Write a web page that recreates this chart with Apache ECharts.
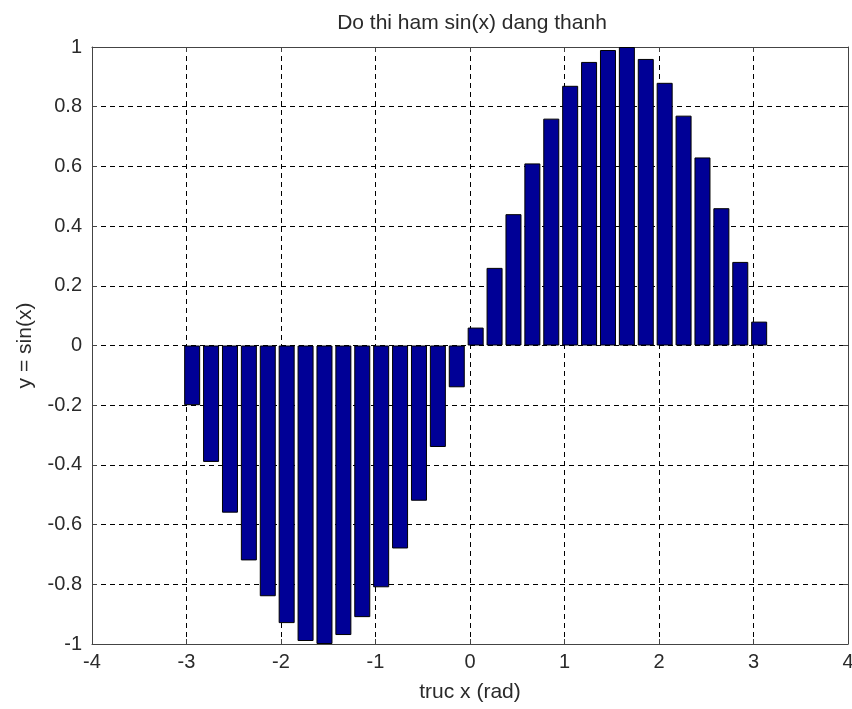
<!DOCTYPE html>
<html>
<head>
    <meta charset="UTF-8">
    <title>sin(x) bar</title>
    <script src="https://cdn.jsdelivr.net/npm/echarts@6/dist/echarts.min.js"></script>
    <style>
        html, body { margin: 0; padding: 0; background: #fff; }
    </style>
</head>
<body>
<div id="container" style="width: 852px; height: 709px;"></div>
<script>
    // x positions of the bars (step 0.2) and the bar heights
    var xs = [-2.94, -2.74, -2.54, -2.34, -2.14, -1.94, -1.74, -1.54, -1.34, -1.14,
              -0.94, -0.74, -0.54, -0.34, -0.14, 0.06, 0.26, 0.46, 0.66, 0.86,
              1.06, 1.26, 1.46, 1.66, 1.86, 2.06, 2.26, 2.46, 2.66, 2.86, 3.06];
    var ys = [-0.20, -0.39, -0.56, -0.72, -0.84, -0.93, -0.99, -1.00, -0.97, -0.91,
              -0.81, -0.68, -0.52, -0.34, -0.14, 0.06, 0.26, 0.44, 0.61, 0.76,
              0.87, 0.95, 0.99, 1.00, 0.96, 0.88, 0.77, 0.63, 0.46, 0.28, 0.08];

    var pts = [];
    for (var i = 0; i < xs.length; i++) {
        pts.push([xs[i], ys[i]]);
    }

    var fontName = 'Liberation Sans, Arial, sans-serif';
    var txtColor = '#2a2a2a';
    var gridLine = { show: true, lineStyle: { color: '#000', type: [5, 4], width: 1 } };
    var axisLn = { show: true, onZero: false, lineStyle: { color: '#444', width: 1 } };
    var tickIn = { show: true, inside: true, length: 5, lineStyle: { color: '#444' } };

    var mychart = echarts.init(document.getElementById('container'));
    var option = {
        animation: false,
        backgroundColor: '#fff',
        title: {
            text: 'Do thi ham sin(x) dang thanh',
            left: 467, top: 8, textAlign: 'center',
            textStyle: { fontFamily: fontName, fontSize: 21, fontWeight: 'normal', color: txtColor }
        },
        grid: { left: 92, right: 4, top: 47, bottom: 65, outerBoundsMode: 'none', containLabel: false },
        xAxis: [{
            type: 'value', min: -4, max: 4, interval: 1,
            name: 'truc x (rad)', nameLocation: 'middle', nameGap: 38,
            nameTextStyle: { fontFamily: fontName, fontSize: 21, color: txtColor },
            axisLine: axisLn, axisTick: tickIn, splitLine: gridLine,
            axisLabel: { fontFamily: fontName, fontSize: 20, color: txtColor, margin: 8 }
        }, {
            type: 'value', min: -4, max: 4, interval: 1, position: 'top',
            axisLine: axisLn, axisTick: tickIn, splitLine: { show: false },
            axisLabel: { show: false }
        }],
        yAxis: [{
            type: 'value', min: -1, max: 1, interval: 0.2,
            name: 'y = sin(x)', nameLocation: 'middle', nameGap: 56,
            nameTextStyle: { fontFamily: fontName, fontSize: 21, color: txtColor },
            axisLine: axisLn, axisTick: tickIn, splitLine: gridLine,
            axisLabel: {
                fontFamily: fontName, fontSize: 20, color: txtColor, margin: 10,
                formatter: function (v) { return String(Math.round(v * 10) / 10); }
            }
        }, {
            type: 'value', min: -1, max: 1, interval: 0.2, position: 'right',
            axisLine: axisLn, axisTick: tickIn, splitLine: { show: false },
            axisLabel: { show: false }
        }],
        series: [{
            type: 'bar',
            data: pts,
            barWidth: 16,
            itemStyle: { color: '#000096', borderColor: '#000', borderWidth: 1 }
        }]
    };
    mychart.setOption(option);
</script>
</body>
</html>
